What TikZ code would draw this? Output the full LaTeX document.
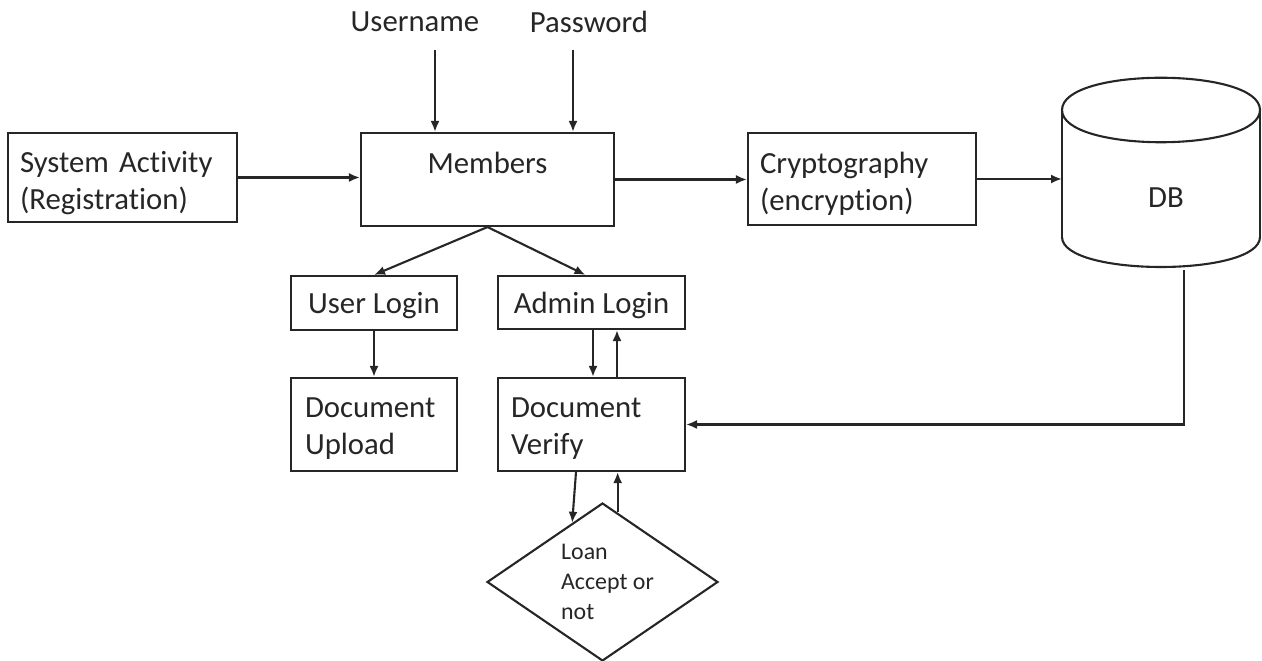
\documentclass[tikz,border=0pt]{standalone}
\usepackage{fontspec}
\setmainfont{Carlito}[Ligatures={NoCommon}]
\usetikzlibrary{shapes.geometric,arrows.meta,calc}
\begin{document}
\begin{tikzpicture}[x=0.02cm,y=-0.02cm,
  every node/.style={text=black!85},
  txt/.style={font=\fontsize{17.5}{21}\selectfont},
  box/.style={draw=black!85,line width=1.2pt,inner sep=0pt},
  btxt/.style={txt,align=left,inner sep=0pt,text=black!85,yshift=-0.09cm},
  arr/.style={draw=black!85,line width=1.2pt,-{Latex[length=0.22cm,width=0.18cm]}},
  dia/.style={diamond,draw=black!85,line width=1.2pt,inner sep=0pt},
  cyl/.style={draw=black!85,line width=1.2pt}]
\useasboundingbox (0,0) rectangle (1262,661);
% inputs
\node[txt] (uname) at (415,22) {Username};
\node[txt] (pword) at (589,22) {Password};
% boxes
\node[box,minimum width=4.58cm,minimum height=1.78cm,
  label={[btxt,text width=4.1cm,yshift=-0.02cm]center:System Activity\\(Registration)}] (sys) at (122.5,177.5) {};
\node[box,minimum width=5.06cm,minimum height=1.86cm,
  label={[btxt,yshift=0.42cm]center:Members}] (members) at (487.5,179.5) {};
\node[box,minimum width=4.56cm,minimum height=1.84cm,
  label={[btxt,text width=4.08cm]center:Cryptography\\(encryption)}] (crypto) at (862,179) {};
\node[box,minimum width=3.32cm,minimum height=1.08cm,
  label={[btxt,yshift=0.03cm]center:User Login}] (ulogin) at (374,303) {};
\node[box,minimum width=3.74cm,minimum height=1.06cm,
  label={[btxt,yshift=0.03cm]center:Admin Login}] (alogin) at (591.5,302.5) {};
\node[box,minimum width=3.32cm,minimum height=1.86cm,
  label={[btxt,text width=2.76cm]center:Document\\Upload}] (upload) at (374,424.5) {};
\node[box,minimum width=3.74cm,minimum height=1.86cm,
  label={[btxt,text width=3.22cm]center:Document\\Verify}] (verify) at (591.5,424.5) {};
\node[dia,minimum width=4.62cm,minimum height=3.16cm,
  label={[font=\fontsize{13.6}{17}\selectfont,align=left,text=black!85,xshift=0.1cm]center:Loan\\Accept or\\not}] (loan) at (602.5,582) {};
% DB cylinder
\coordinate (tl) at (1062,110);
\coordinate (tr) at (1260,110);
\coordinate (bl) at (1062,237);
\coordinate (br) at (1260,237);
\draw[cyl] (tl) -- (bl);
\draw[cyl] (tr) -- (br);
\draw[cyl] (bl) .. controls (1062,277) and (1260,277) .. (br);
\draw[cyl] (tl) .. controls (1062,67) and (1260,67) .. (tr);
\draw[cyl] (tl) .. controls (1062,153) and (1260,153) .. (tr);
\node[txt] (db) at (1166,198) {DB};
\coordinate (dbw) at (1062,180);
\coordinate (dbs) at (1184,270);
% connectors
\coordinate (u1) at (435,50);
\coordinate (p1) at (573,50);
\draw[arr] (u1) -- (u1 |- members.north);
\draw[arr] (p1) -- (p1 |- members.north);
\draw[arr] (sys.east) -- (sys.east -| members.west);
\draw[arr] (members.east) -- (members.east -| crypto.west);
\draw[arr] (crypto.east) -- (crypto.east -| dbw);
\draw[arr] (members.south) -- (ulogin.north);
\draw[arr] (members.south) -- ([xshift=-0.12cm]alogin.north);
\draw[arr] (ulogin.south) -- (upload.north);
\draw[arr] ([xshift=0.03cm]alogin.south) -- ([xshift=0.03cm]verify.north);
\draw[arr] ([xshift=0.51cm]verify.north) -- ([xshift=0.51cm]alogin.south);
\coordinate (ld) at ($(loan.north)!0.26!(loan.west)$);
\coordinate (lu) at ($(loan.north)!0.13!(loan.east)$);
\draw[arr] ([xshift=-0.31cm]verify.south) -- (ld);
\draw[arr] (lu) -- (lu |- verify.south);
\draw[arr] (dbs) |- (verify.east);
\end{tikzpicture}
\end{document}
